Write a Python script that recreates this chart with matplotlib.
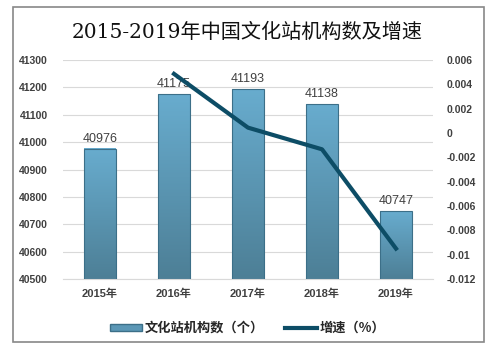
import matplotlib
matplotlib.use("Agg")
import matplotlib.pyplot as plt
import numpy as np
from matplotlib.patches import Rectangle
from matplotlib.lines import Line2D
from matplotlib.colors import LinearSegmentedColormap

plt.rcParams['font.family'] = ['Liberation Sans', 'Noto Sans CJK SC']

years = ['2015年', '2016年', '2017年', '2018年', '2019年']
counts = [40976, 41175, 41193, 41138, 40747]
growth_years = [1, 2, 3, 4]
growth = [0.00486, 0.00044, -0.00134, -0.0095]
left_ticks = [40500, 40600, 40700, 40800, 40900, 41000, 41100, 41200, 41300]
right_ticks = [-0.012, -0.01, -0.008, -0.006, -0.004, -0.002, 0, 0.002, 0.004, 0.006]
right_labels = ['-0.012', '-0.01', '-0.008', '-0.006', '-0.004', '-0.002', '0', '0.002', '0.004', '0.006']

fig = plt.figure(figsize=(4.95, 3.5), dpi=100)
fig.patches.append(Rectangle((13/495, 1-342/350), 471/495, 335/350, transform=fig.transFigure,
                             fill=False, edgecolor='#888888', linewidth=1.2))
ax = fig.add_axes([63/495, 1-279/350, 370/495, 219/350])
x = np.arange(len(years))
bw = 0.42
cmap = LinearSegmentedColormap.from_list('g', ['#4d7f96', '#68acce'])
grad = np.linspace(0, 1, 100).reshape(-1, 1)
for xi, v in zip(x, counts):
    ax.imshow(grad, cmap=cmap, aspect='auto', origin='lower',
              extent=[xi - bw/2, xi + bw/2, 40500, v], zorder=2)
    ax.add_patch(Rectangle((xi - bw/2, 40500), bw, v - 40500, fill=False,
                           edgecolor='#3c6f88', linewidth=0.8, zorder=3))
    ax.text(xi, v + 15, str(v), ha='center', va='bottom', fontsize=9, color='#404040', zorder=5)
ax.set_xlim(-0.5, 4.5)
ax.set_ylim(40500, 41300)
ax.set_yticks(left_ticks)
ax.set_xticks(x)
ax.set_xticklabels(years, fontsize=8, fontweight='bold', color='#404040')
ax.tick_params(axis='y', labelsize=7.5, colors='#404040', length=0, pad=11)
ax.tick_params(axis='x', length=0, pad=7)
for lab in ax.get_yticklabels():
    lab.set_fontweight('bold')
ax.grid(axis='y', color='#d9d9d9', linewidth=0.8, zorder=0)
ax.set_axisbelow(True)
for s in ['top', 'right', 'left']:
    ax.spines[s].set_visible(False)
ax.spines['bottom'].set_color('#d9d9d9')

ax2 = ax.twinx()
ax2.plot(growth_years, growth, color='#0d4d66', linewidth=3, zorder=6)
ax2.set_ylim(-0.012, 0.006)
ax2.set_yticks(right_ticks)
ax2.set_yticklabels(right_labels, fontsize=7.5, fontweight='bold', color='#404040')
ax2.tick_params(axis='y', length=0, pad=10)
for s in ax2.spines.values():
    s.set_visible(False)

fig.text(0.5, 1-32/350, '2015-2019年中国文化站机构数及增速', ha='center', va='center',
         fontsize=14.5, fontweight='normal', family=['DejaVu Serif', 'Noto Sans CJK SC'], color='#111111')

handles = [Rectangle((0, 0), 1, 1, facecolor='#5b97b6', edgecolor='#3c6f88'),
           Line2D([0], [0], color='#0d4d66', linewidth=3)]
leg = fig.legend(handles, ['文化站机构数（个）', '增速（%）'], loc='center', bbox_to_anchor=(0.5, 1-328/350),
                 ncol=2, frameon=False, prop={'family': ['Noto Sans CJK SC', 'DejaVu Sans'], 'size': 9.5, 'weight': 'bold'},
                 handlelength=2.4, handleheight=0.5, columnspacing=1.6, handletextpad=0.2)
for t in leg.get_texts():
    t.set_color('#262626')

fig.savefig('out.png', dpi=100)
